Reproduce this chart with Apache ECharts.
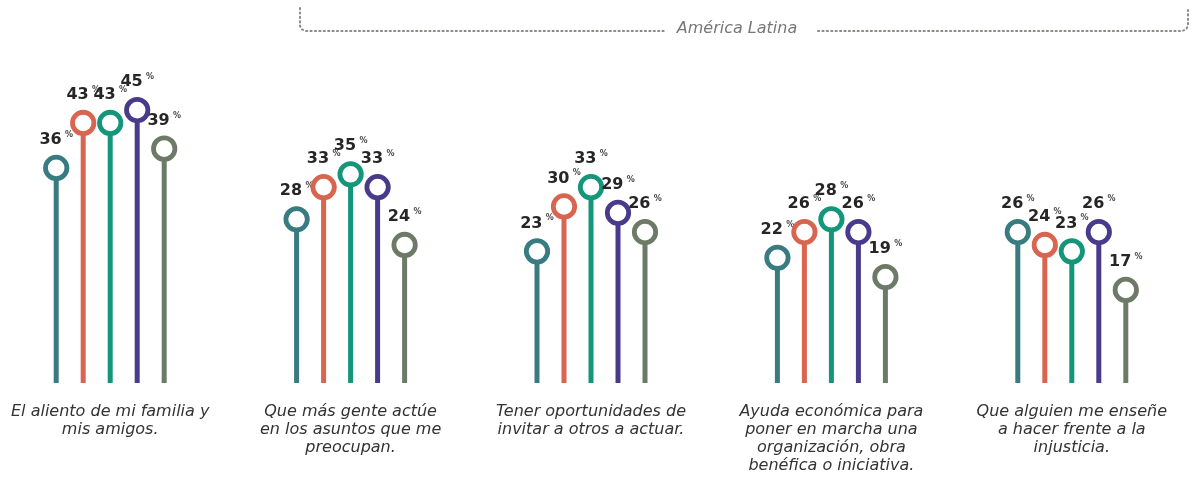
<!DOCTYPE html>
<html>
<head>
<meta charset="utf-8">
<script src="https://cdn.jsdelivr.net/npm/echarts@6/dist/echarts.min.js"></script>
<style>
html,body{margin:0;padding:0;background:#fff;overflow:hidden;width:1199px;height:480px;position:relative;}
#chart{position:absolute;left:-10px;top:0;width:1209px;height:480px;}
</style>
</head>
<body>
<div id="chart"></div>
<script>
const categories = [
  "El aliento de mi familia y\nmis amigos.",
  "Que más gente actúe\nen los asuntos que me\npreocupan.",
  "Tener oportunidades de\ninvitar a otros a actuar.",
  "Ayuda económica para\nponer en marcha una\norganización, obra\nbenéfica o iniciativa.",
  "Que alguien me enseñe\na hacer frente a la\ninjusticia."
];
const seriesNames = ["Serie 1", "Serie 2", "Serie 3", "Serie 4", "Serie 5"];
const serie1 = [36, 28, 23, 22, 26];
const serie2 = [43, 33, 30, 26, 24];
const serie3 = [43, 35, 33, 28, 23];
const serie4 = [45, 33, 29, 26, 26];
const serie5 = [39, 24, 26, 19, 17];
const regionTitle = "América Latina";

const allSeries = [serie1, serie2, serie3, serie4, serie5];
const colors = ["#387B81", "#D8654F", "#13967A", "#4A3A8B", "#6C7A67"];
const Y_MIN = 2.5;
const STEP = 27;
const SHIFT = 10; // container offset

function makeRender(j) {
  return function (params, api) {
    const cat = api.value(0);
    const val = api.value(1);
    const top = api.coord([cat, val]);
    const base = api.coord([cat, Y_MIN]);
    const x = top[0] + (j - 2) * STEP;
    const r = 10.7;
    return {
      type: 'group',
      children: [
        {
          type: 'line',
          shape: { x1: x, y1: top[1] + r, x2: x, y2: base[1] },
          style: { stroke: colors[j], lineWidth: 5 }
        },
        {
          type: 'circle',
          shape: { cx: x, cy: top[1], r: r },
          style: { fill: '#fff', stroke: colors[j], lineWidth: 4.8 }
        },
        {
          type: 'text',
          x: x,
          y: top[1] - 19,
          style: {
            text: '{v|' + val + '} {p|%}',
            align: 'center',
            verticalAlign: 'bottom',
            rich: {
              v: { fontFamily: '"DejaVu Sans", sans-serif', fontWeight: 'bold', fontSize: 16, fill: '#262626' },
              p: { fontFamily: '"DejaVu Sans", sans-serif', fontWeight: 'bold', fontSize: 8, fill: '#444', padding: [0, 0, 10, 0] }
            }
          }
        }
      ]
    };
  };
}

const series = allSeries.map((arr, j) => ({
  type: 'custom',
  name: seriesNames[j],
  renderItem: makeRender(j),
  encode: { x: 0, y: 1 },
  data: arr.map((v, i) => [i, v]),
  clip: false,
  silent: true
}));

const chart = echarts.init(document.getElementById('chart'));
chart.setOption({
  animation: false,
  backgroundColor: '#fff',
  grid: { left: 0, right: 7, top: 78, bottom: 97, containLabel: false },
  xAxis: {
    type: 'category',
    data: categories,
    axisLine: { show: false },
    axisTick: { show: false },
    axisLabel: {
      margin: 20,
      interval: 0,
      fontFamily: '"DejaVu Sans", sans-serif',
      fontStyle: 'italic',
      fontSize: 16,
      lineHeight: 18,
      color: '#333'
    }
  },
  yAxis: {
    type: 'value',
    min: Y_MIN,
    max: 50,
    show: false,
    splitLine: { show: false }
  },
  graphic: [
    {
      type: 'polyline',
      shape: { points: [[300 + SHIFT, 8], [300 + SHIFT, 26], [302 + SHIFT, 29.5], [306 + SHIFT, 31], [664 + SHIFT, 31]] },
      style: { stroke: '#8a8a86', lineWidth: 2, lineDash: [1.2, 3.2], lineCap: 'round', fill: null }
    },
    {
      type: 'polyline',
      shape: { points: [[818 + SHIFT, 31], [1182 + SHIFT, 31], [1186 + SHIFT, 29.5], [1188 + SHIFT, 26], [1188 + SHIFT, 8]] },
      style: { stroke: '#8a8a86', lineWidth: 2, lineDash: [1.2, 3.2], lineCap: 'round', fill: null }
    },
    {
      type: 'text',
      x: 737 + SHIFT,
      y: 29,
      style: {
        text: regionTitle,
        align: 'center',
        verticalAlign: 'middle',
        fontFamily: '"DejaVu Sans", sans-serif',
        fontStyle: 'italic',
        fontSize: 16,
        fill: '#777'
      }
    }
  ],
  series: series
});
</script>
</body>
</html>
